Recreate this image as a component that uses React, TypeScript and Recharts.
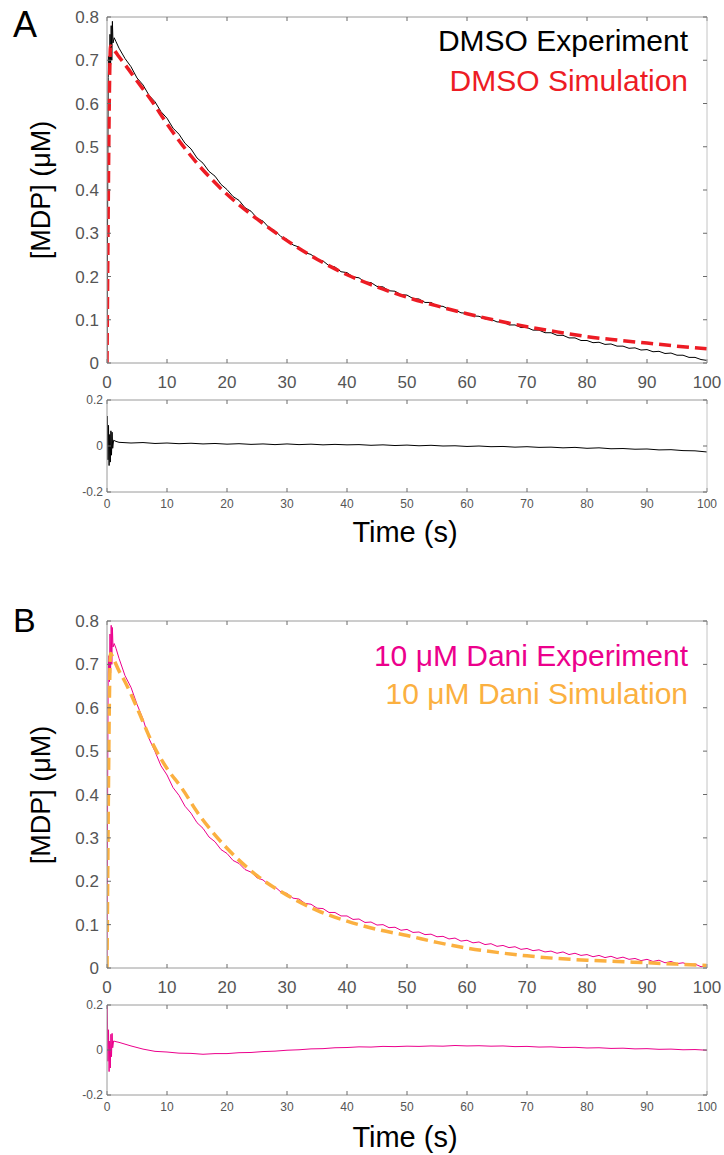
import React from 'react';
import { LineChart, Line, XAxis, YAxis } from 'recharts';

// time points (s)
const expTime = [0, 0.1, 0.2, 0.3, 0.4, 0.5, 0.6, 0.7, 0.8, 0.9, 1, 1.2, 1.5,
  2, 3, 4, 5, 6, 7, 8, 9, 10, 11, 12, 13, 14, 15, 16, 17, 18, 19, 20,
  21, 22, 23, 24, 25, 26, 27, 28, 29, 30, 31, 32, 33, 34, 35, 36, 37, 38, 39, 40,
  41, 42, 43, 44, 45, 46, 47, 48, 49, 50, 51, 52, 53, 54, 55, 56, 57, 58, 59, 60,
  61, 62, 63, 64, 65, 66, 67, 68, 69, 70, 71, 72, 73, 74, 75, 76, 77, 78, 79, 80,
  81, 82, 83, 84, 85, 86, 87, 88, 89, 90, 91, 92, 93, 94, 95, 96, 97, 98, 99, 100];
const simTime = [0, 0.6, 1, 2, 3, 5, 7.5, 10, 12.5, 15, 17.5, 20, 25, 30, 35, 40, 45, 50, 55, 60, 65, 70, 75, 80, 85, 90, 95, 100];
const residTime = [0, 0.05, 0.15, 0.25, 0.35, 0.45, 0.55, 0.65, 0.75, 0.85, 0.95, 1.1, 1.5,
  2, 4, 6, 8, 10, 12, 14, 16, 18, 20, 22, 24, 26, 28, 30, 32, 34, 36, 38, 40,
  42, 44, 46, 48, 50, 52, 54, 56, 58, 60, 62, 64, 66, 68, 70, 72, 74, 76, 78, 80,
  82, 84, 86, 88, 90, 92, 94, 96, 98, 100];

const xTicks = [0, 10, 20, 30, 40, 50, 60, 70, 80, 90, 100];
const mainTicks = [0, 0.1, 0.2, 0.3, 0.4, 0.5, 0.6, 0.7, 0.8];
const residTicks = [-0.2, 0, 0.2];

// panel A: DMSO
const dmsoExp = [0, 0.35, 0.66, 0.71, 0.67, 0.76, 0.69, 0.78, 0.70, 0.79, 0.74, 0.752, 0.743,
  0.728, 0.704, 0.685, 0.659, 0.643, 0.619, 0.604, 0.581, 0.566, 0.543, 0.529, 0.508, 0.495, 0.474, 0.462, 0.443, 0.432, 0.413, 0.401,
  0.385, 0.376, 0.359, 0.351, 0.335, 0.328, 0.313, 0.306, 0.292, 0.286, 0.273, 0.268, 0.255, 0.251, 0.239, 0.236, 0.225, 0.222, 0.211, 0.209,
  0.199, 0.197, 0.187, 0.186, 0.177, 0.176, 0.167, 0.166, 0.158, 0.157, 0.149, 0.148, 0.140, 0.140, 0.132, 0.131, 0.124, 0.123, 0.116, 0.115,
  0.109, 0.108, 0.102, 0.101, 0.095, 0.095, 0.088, 0.088, 0.082, 0.082, 0.076, 0.076, 0.070, 0.070, 0.064, 0.064, 0.058, 0.058, 0.052, 0.052,
  0.047, 0.048, 0.043, 0.044, 0.039, 0.039, 0.034, 0.035, 0.030, 0.031, 0.026, 0.027, 0.022, 0.023, 0.018, 0.018, 0.013, 0.013, 0.008, 0.006];
const dmsoSim = [0, 0.733, 0.727, 0.708, 0.69, 0.652, 0.605, 0.553, 0.505, 0.462, 0.424, 0.39, 0.333, 0.283, 0.24, 0.204,
  0.176, 0.152, 0.132, 0.114, 0.098, 0.084, 0.072, 0.061, 0.053, 0.046, 0.039, 0.033];
const dmsoResid = [0, 0.13, -0.06, 0.09, -0.085, 0.05, -0.07, 0.066, -0.04, 0.06, -0.01, 0.025, 0.02,
  0.016, 0.013, 0.015, 0.011, 0.013, 0.010, 0.012, 0.009, 0.011, 0.008, 0.010, 0.007, 0.009, 0.006, 0.009, 0.006, 0.008, 0.005, 0.007, 0.005,
  0.006, 0.003, 0.005, 0.002, 0.004, 0.001, 0.003, 0.000, 0.001, -0.002, 0.000, -0.003, -0.002, -0.005, -0.003, -0.006, -0.005, -0.008, -0.006, -0.010,
  -0.008, -0.012, -0.011, -0.014, -0.013, -0.017, -0.016, -0.020, -0.021, -0.026];

// panel B: 10 uM Dani
const daniExp = [0, 0.4, 0.68, 0.72, 0.66, 0.77, 0.68, 0.79, 0.70, 0.785, 0.74, 0.748, 0.737,
  0.714, 0.674, 0.647, 0.608, 0.574, 0.529, 0.499, 0.466, 0.445, 0.416, 0.398, 0.373, 0.357, 0.335, 0.322, 0.302, 0.291, 0.273, 0.264,
  0.248, 0.241, 0.227, 0.221, 0.208, 0.203, 0.191, 0.187, 0.175, 0.172, 0.161, 0.159, 0.149, 0.147, 0.138, 0.137, 0.128, 0.128, 0.120, 0.120,
  0.112, 0.113, 0.105, 0.106, 0.099, 0.100, 0.093, 0.094, 0.087, 0.089, 0.082, 0.083, 0.077, 0.078, 0.072, 0.073, 0.067, 0.069, 0.062, 0.064,
  0.058, 0.060, 0.054, 0.056, 0.050, 0.052, 0.047, 0.049, 0.043, 0.045, 0.040, 0.042, 0.037, 0.039, 0.034, 0.037, 0.031, 0.034, 0.029, 0.031,
  0.026, 0.029, 0.024, 0.027, 0.022, 0.025, 0.020, 0.022, 0.017, 0.020, 0.015, 0.018, 0.012, 0.015, 0.010, 0.012, 0.007, 0.009, 0.003, 0.004];
const daniSim = [0, 0.725, 0.715, 0.685, 0.66, 0.60, 0.52, 0.46, 0.414, 0.36, 0.315, 0.276, 0.213, 0.168, 0.133, 0.108,
  0.089, 0.075, 0.059, 0.046, 0.036, 0.028, 0.022, 0.018, 0.015, 0.012, 0.009, 0.006];
const daniResid = [0.2, 0.2, -0.05, 0.09, -0.096, 0.04, -0.08, 0.07, -0.03, 0.074, 0.01, 0.04, 0.037,
  0.034, 0.018, 0.004, -0.006, -0.009, -0.014, -0.015, -0.019, -0.016, -0.016, -0.012, -0.011, -0.007, -0.005, -0.001, 0.001, 0.005, 0.006, 0.010, 0.011,
  0.014, 0.013, 0.016, 0.015, 0.017, 0.016, 0.018, 0.017, 0.020, 0.018, 0.019, 0.017, 0.018, 0.015, 0.016, 0.013, 0.014, 0.011, 0.012, 0.009,
  0.010, 0.007, 0.008, 0.005, 0.006, 0.003, 0.004, 0.001, 0.002, -0.001];

const FONT = '"Liberation Sans", Arial, Helvetica, sans-serif';
const AXIS = '#9a9a9a';
const TICK = '#6a6a6a';
const LABEL = '#555555';

const RED = '#ED1C24';
const MAGENTA = '#EC008C';
const ORANGE = '#FBB040';

const pairs = (xs: number[], ys: number[]) => xs.map((t, i) => ({ t, v: ys[i] }));

// tick-only axes: draw the tick marks but no label text
const noLabel = () => <g />;

// box axes in the MATLAB style: labels outside, small ticks pointing inward on all four sides
function frame(yDomain: number[], yTicks: number[], fontSize: number, xGap: number, yGap: number, xHeight: number) {
  return [
    <XAxis key="xb" xAxisId="x" type="number" dataKey="t" domain={[0, 100]} ticks={xTicks} interval={0}
      allowDataOverflow tickLine={false} tickSize={0} tickMargin={xGap} height={xHeight}
      axisLine={{ stroke: AXIS }} tick={{ fill: LABEL, fontSize, fontFamily: FONT }} />,
    <XAxis key="xi" xAxisId="xi" type="number" dataKey="t" domain={[0, 100]} ticks={xTicks} interval={0}
      allowDataOverflow mirror tick={noLabel} axisLine={false} tickLine={{ stroke: TICK }} tickSize={4} />,
    <XAxis key="xt" xAxisId="xt" orientation="top" type="number" dataKey="t" domain={[0, 100]} ticks={xTicks} interval={0}
      allowDataOverflow mirror tick={noLabel} axisLine={{ stroke: AXIS }} tickLine={{ stroke: TICK }} tickSize={4} />,
    <YAxis key="yl" yAxisId="y" type="number" domain={yDomain} ticks={yTicks} interval={0}
      allowDataOverflow tickLine={false} tickSize={0} tickMargin={yGap} width={107}
      axisLine={{ stroke: AXIS }} tick={{ fill: LABEL, fontSize, fontFamily: FONT }} />,
    <YAxis key="yi" yAxisId="yi" type="number" domain={yDomain} ticks={yTicks} interval={0}
      allowDataOverflow mirror tick={noLabel} axisLine={false} tickLine={{ stroke: TICK }} tickSize={4} />,
    <YAxis key="yr" yAxisId="yr" orientation="right" type="number" domain={yDomain} ticks={yTicks} interval={0}
      allowDataOverflow mirror tick={noLabel} axisLine={{ stroke: '#c4c4c4' }} tickLine={{ stroke: TICK }} tickSize={4} />,
  ];
}

// invisible series so the tick-only axes get registered and drawn
function anchors(data: { t: number; v: number }[]) {
  return [
    <Line key="ai" xAxisId="xi" yAxisId="yi" data={data} dataKey="v" stroke="none" strokeOpacity={0}
      dot={false} activeDot={false} isAnimationActive={false} legendType="none" />,
    <Line key="at" xAxisId="xt" yAxisId="yr" data={data} dataKey="v" stroke="none" strokeOpacity={0}
      dot={false} activeDot={false} isAnimationActive={false} legendType="none" />,
  ];
}

interface PanelProps {
  top: number;
  plotHeight: number;
  exp: number[];
  sim: number[];
  expColor: string;
  simColor: string;
}

const MainPlot: React.FC<PanelProps> = ({ top, plotHeight, exp, sim, expColor, simColor }) => {
  const expData = pairs(expTime, exp);
  return (
    <div style={{ position: 'absolute', left: 0, top }}>
      <LineChart width={724} height={17 + plotHeight + 30} margin={{ top: 17, right: 17, bottom: 0, left: 0 }}>
        {frame([0, 0.8], mainTicks, 17, 13, 8, 30)}
        {anchors(expData)}
        <Line xAxisId="x" yAxisId="y" data={expData} dataKey="v" type="linear"
          stroke={expColor} strokeWidth={1} dot={false} isAnimationActive={false} />
        <Line xAxisId="x" yAxisId="y" data={pairs(simTime, sim)} dataKey="v" type="monotone"
          stroke={simColor} strokeWidth={3.5} strokeDasharray="12 6" dot={false} isAnimationActive={false} />
      </LineChart>
    </div>
  );
};

const ResidPlot: React.FC<{ top: number; plotHeight: number; resid: number[]; color: string }> = ({ top, plotHeight, resid, color }) => {
  const data = pairs(residTime, resid);
  return (
    <div style={{ position: 'absolute', left: 0, top }}>
      <LineChart width={724} height={10 + plotHeight + 20} margin={{ top: 10, right: 17, bottom: 0, left: 0 }}>
        {frame([-0.2, 0.2], residTicks, 12, 7, 4, 20)}
        {anchors(data)}
        <Line xAxisId="x" yAxisId="y" data={data} dataKey="v" type="linear"
          stroke={color} strokeWidth={1} dot={false} isAnimationActive={false} />
      </LineChart>
    </div>
  );
};

export default function App() {
  return (
    <div style={{ position: 'absolute', left: 0, top: 0, width: 724, height: 1155, background: '#fff', fontFamily: FONT }}>
      <MainPlot top={0} plotHeight={346} exp={dmsoExp} sim={dmsoSim} expColor="#000000" simColor={RED} />
      <ResidPlot top={390} plotHeight={92} resid={dmsoResid} color="#000000" />
      <MainPlot top={604} plotHeight={347} exp={daniExp} sim={daniSim} expColor={MAGENTA} simColor={ORANGE} />
      <ResidPlot top={995} plotHeight={90} resid={daniResid} color={MAGENTA} />

      <svg width={724} height={1155} style={{ position: 'absolute', left: 0, top: 0, pointerEvents: 'none' }}>
        <g fontFamily={FONT}>
          <text x={13} y={37} fontSize={36}>A</text>
          <text x={13} y={632} fontSize={34}>B</text>

          <text transform="translate(50,190) rotate(-90)" textAnchor="middle" fontSize={27}>[MDP] (μM)</text>
          <text transform="translate(50,795) rotate(-90)" textAnchor="middle" fontSize={27}>[MDP] (μM)</text>

          <text x={405} y={542} textAnchor="middle" fontSize={29}>Time (s)</text>
          <text x={405} y={1147} textAnchor="middle" fontSize={29}>Time (s)</text>

          <text x={688} y={51} textAnchor="end" fontSize={30} fill="#000">DMSO Experiment</text>
          <text x={688} y={91} textAnchor="end" fontSize={30} fill={RED}>DMSO Simulation</text>
          <text x={688} y={666} textAnchor="end" fontSize={30} fill={MAGENTA}>10 μM Dani Experiment</text>
          <text x={688} y={704} textAnchor="end" fontSize={30} fill={ORANGE}>10 μM Dani Simulation</text>
        </g>
      </svg>
    </div>
  );
}
